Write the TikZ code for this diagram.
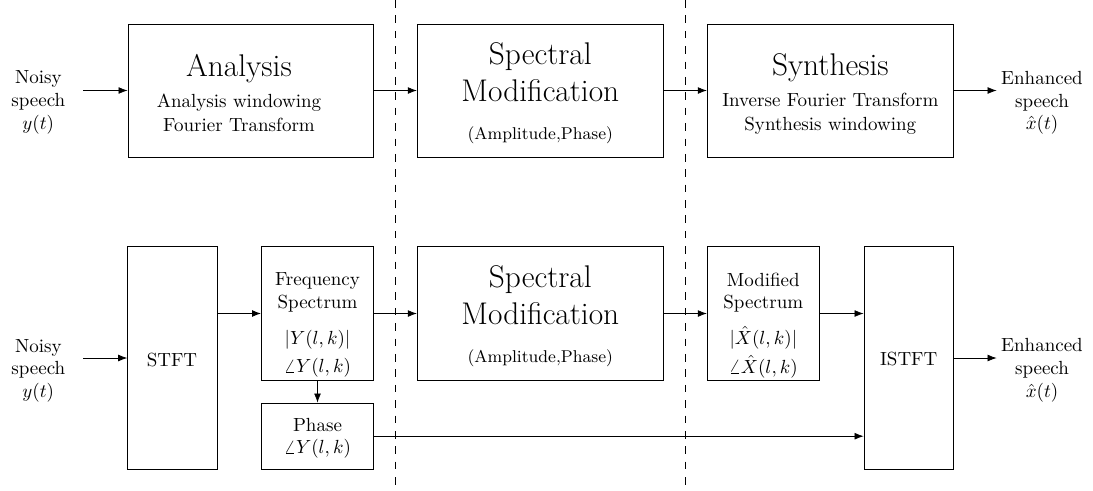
\documentclass[tikz,border=0pt]{standalone}
\usetikzlibrary{arrows.meta}
\def\px{0.5263pt}
\tikzset{
  blk/.style={draw, inner sep=0pt},
  ttl/.style={inner sep=0pt, align=center, font=\fontsize{16.5}{19.5}\selectfont},
  txt/.style={inner sep=0pt, align=center, font=\normalsize},
  subtxt/.style={inner sep=0pt, align=center, font=\fontsize{10}{12.8}\selectfont},
  mathtxt/.style={inner sep=0pt, align=center, font=\fontsize{10}{15}\selectfont},
  smalltxt/.style={inner sep=0pt, align=center, font=\small},
  arr/.style={-{Latex[length=4.8pt,width=3.6pt]}},
  sep/.style={dash pattern=on 4pt off 4.1pt},
}
\begin{document}
\begin{tikzpicture}[x=\px, y=-\px]
\useasboundingbox (0,0) rectangle (1093,490);

% ---------- upper chain: analysis / modification / synthesis ----------
\node[blk, minimum width=245*\px, minimum height=133*\px] (ana) at (250.5,90.5) {};
\node[ttl] (anaT) at (239,68.5) {Analysis};
\node[subtxt] (anaS) at (239,113) {Analysis windowing\\Fourier Transform};

\node[blk, minimum width=246*\px, minimum height=133*\px] (modA) at (540.3,90.5) {};
\node[ttl] (modAT) at (540.3,72) {Spectral\\Modification};
\node[smalltxt] (modAS) at (540.3,135.5) {(Amplitude,Phase)};

\node[blk, minimum width=246*\px, minimum height=133*\px] (syn) at (830.3,90.5) {};
\node[ttl] (synT) at (830.3,68) {Synthesis};
\node[subtxt] (synS) at (830.3,113.5) {Inverse Fourier Transform\\Synthesis windowing};

\node[txt] (inA) at (38.3,102.2) {Noisy\\speech\\$y(t)$};
\node[txt] (outA) at (1042,102.8) {Enhanced\\speech\\$\hat{x}(t)$};
\coordinate (inAend) at (83,90.5);
\coordinate (outAend) at (996.7,90.5);

\draw[arr] (inAend) -- (ana.west);
\draw[arr] (ana.east) -- (modA.west);
\draw[arr] (modA.east) -- (syn.west);
\draw[arr] (syn.east) -- (outAend);

% ---------- lower chain: STFT / modification / ISTFT ----------
\node[blk, minimum width=89.6*\px, minimum height=222.6*\px] (stft) at (172.5,358) {};
\node[txt] (stftT) at (172,359.7) {STFT};

\node[blk, minimum width=111.6*\px, minimum height=133.6*\px] (freq) at (317.5,313.5) {};
\node[txt] (freqT) at (317.5,292.3) {Frequency\\Spectrum};
\node[mathtxt] (freqM) at (317.5,353.5) {$|Y(l,k)|$\\$\angle Y(l,k)$};

\node[blk, minimum width=111.6*\px, minimum height=66.3*\px] (phase) at (317.5,436.2) {};
\node[txt] (phaseT) at (317.5,438.3) {Phase\\$\angle Y(l,k)$};

\node[blk, minimum width=246*\px, minimum height=133.6*\px] (modB) at (540.3,313.5) {};
\node[ttl] (modBT) at (540.3,295.5) {Spectral\\Modification};
\node[smalltxt] (modBS) at (540.3,358.3) {(Amplitude,Phase)};

\node[blk, minimum width=112*\px, minimum height=133.6*\px] (mspec) at (763.3,313.5) {};
\node[txt] (mspecT) at (763.3,292.7) {Modified\\Spectrum};
\node[mathtxt] (mspecM) at (763.3,352.3) {$|\hat{X}(l,k)|$\\$\angle\hat{X}(l,k)$};

\node[blk, minimum width=89.3*\px, minimum height=222.6*\px] (istft) at (908.7,358) {};
\node[txt] (istftT) at (908.7,358.8) {ISTFT};

\node[txt] (inB) at (38.3,370.8) {Noisy\\speech\\$y(t)$};
\node[txt] (outB) at (1042,370.5) {Enhanced\\speech\\$\hat{x}(t)$};
\coordinate (inBend) at (83,358);
\coordinate (outBend) at (996.7,358);

\draw[arr] (inBend) -- (stft.west);
\draw[arr, line width=0.7pt] (stft.east |- freq.west) -- (freq.west);
\draw[arr] (freq.east) -- (modB.west);
\draw[arr] (modB.east) -- (mspec.west);
\draw[arr] (mspec.east) -- (mspec.east -| istft.west);
\draw[arr] (freq.south) -- (phase.north);
\draw[arr] (phase.east) -- (phase.east -| istft.west);
\draw[arr] (istft.east) -- (outBend);

% ---------- stage separators ----------
\coordinate (sepAtop) at (395.7,0);
\coordinate (sepAbot) at (395.7,490);
\coordinate (sepBtop) at (685.7,0);
\coordinate (sepBbot) at (685.7,490);
\draw[sep] (sepAtop) -- (sepAbot);
\draw[sep] (sepBtop) -- (sepBbot);
\end{tikzpicture}
\end{document}
